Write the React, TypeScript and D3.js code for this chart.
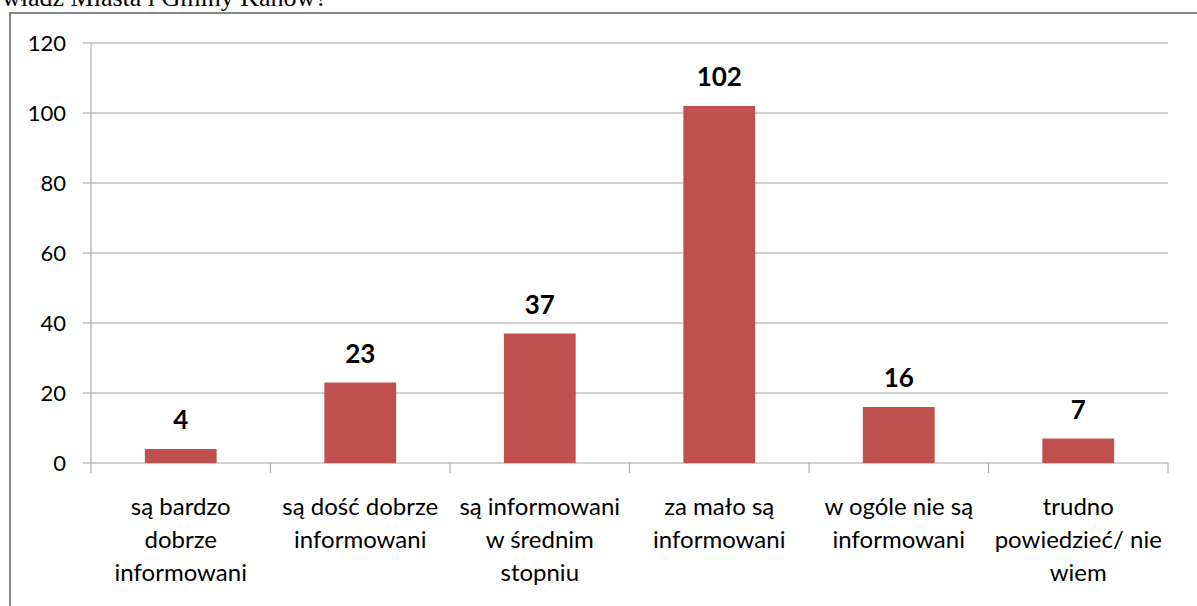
import React from "react";
import * as d3 from "d3";

const categories: string[][] = [
  ["są bardzo", "dobrze", "informowani"],
  ["są dość dobrze", "informowani"],
  ["są informowani", "w średnim", "stopniu"],
  ["za mało są", "informowani"],
  ["w ogóle nie są", "informowani"],
  ["trudno", "powiedzieć/ nie", "wiem"],
];
const values: number[] = [4, 23, 37, 102, 16, 7];
const yTicks: number[] = [0, 20, 40, 60, 80, 100, 120];
const titleText = "władz Miasta i Gminy Kanów?";

const W = 1197;
const H = 606;
const FONT = "Lato, 'Open Sans', sans-serif";

export default function App() {
  const left = 91;
  const right = 1168;
  const top = 43;
  const bottom = 463;

  const x = d3
    .scaleBand<number>()
    .domain(values.map((_, i) => i))
    .range([left, right])
    .paddingInner(0.6)
    .paddingOuter(0.3);
  const step = (right - left) / values.length;
  const y = d3.scaleLinear().domain([0, 120]).range([bottom, top]);

  return (
    <svg
      width={W}
      height={H}
      style={{ position: "absolute", left: 0, top: 0, background: "#fff" }}
    >
      <text
        x={2}
        y={6}
        fontFamily="'Liberation Serif', serif"
        fontSize={26}
        fill="#000"
      >
        {titleText}
      </text>
      <rect x={10} y={13} width={W} height={H} fill="#fff" stroke="#868686" strokeWidth={2} />
      {yTicks.map((t) => (
        <g key={t}>
          <line x1={83} x2={right} y1={y(t)} y2={y(t)} stroke="#a0a0a0" strokeWidth={1} />
          <text
            x={66}
            y={y(t)}
            dy="0.36em"
            textAnchor="end"
            fontFamily={FONT}
            fontSize={22}
            fill="#000"
          >
            {t}
          </text>
        </g>
      ))}
      <line x1={left} x2={left} y1={top} y2={bottom} stroke="#a0a0a0" strokeWidth={1} />
      {d3.range(values.length + 1).map((i) => (
        <line
          key={i}
          x1={left + i * step}
          x2={left + i * step}
          y1={bottom}
          y2={bottom + 10}
          stroke="#a0a0a0"
          strokeWidth={1}
        />
      ))}
      {values.map((v, i) => (
        <g key={i}>
          <rect
            x={x(i)}
            y={y(v)}
            width={x.bandwidth()}
            height={bottom - y(v)}
            fill="#C0504D"
          />
          <text
            x={(x(i) as number) + x.bandwidth() / 2}
            y={y(v) - 20}
            textAnchor="middle"
            fontFamily={FONT}
            fontWeight="bold"
            fontSize={26}
            fill="#000"
          >
            {v}
          </text>
          {categories[i].map((line, j) => (
            <text
              key={j}
              x={(x(i) as number) + x.bandwidth() / 2}
              y={507 + j * 33}
              dy="0.35em"
              textAnchor="middle"
              fontFamily={FONT}
              fontSize={24}
              fill="#000"
            >
              {line}
            </text>
          ))}
        </g>
      ))}
    </svg>
  );
}
